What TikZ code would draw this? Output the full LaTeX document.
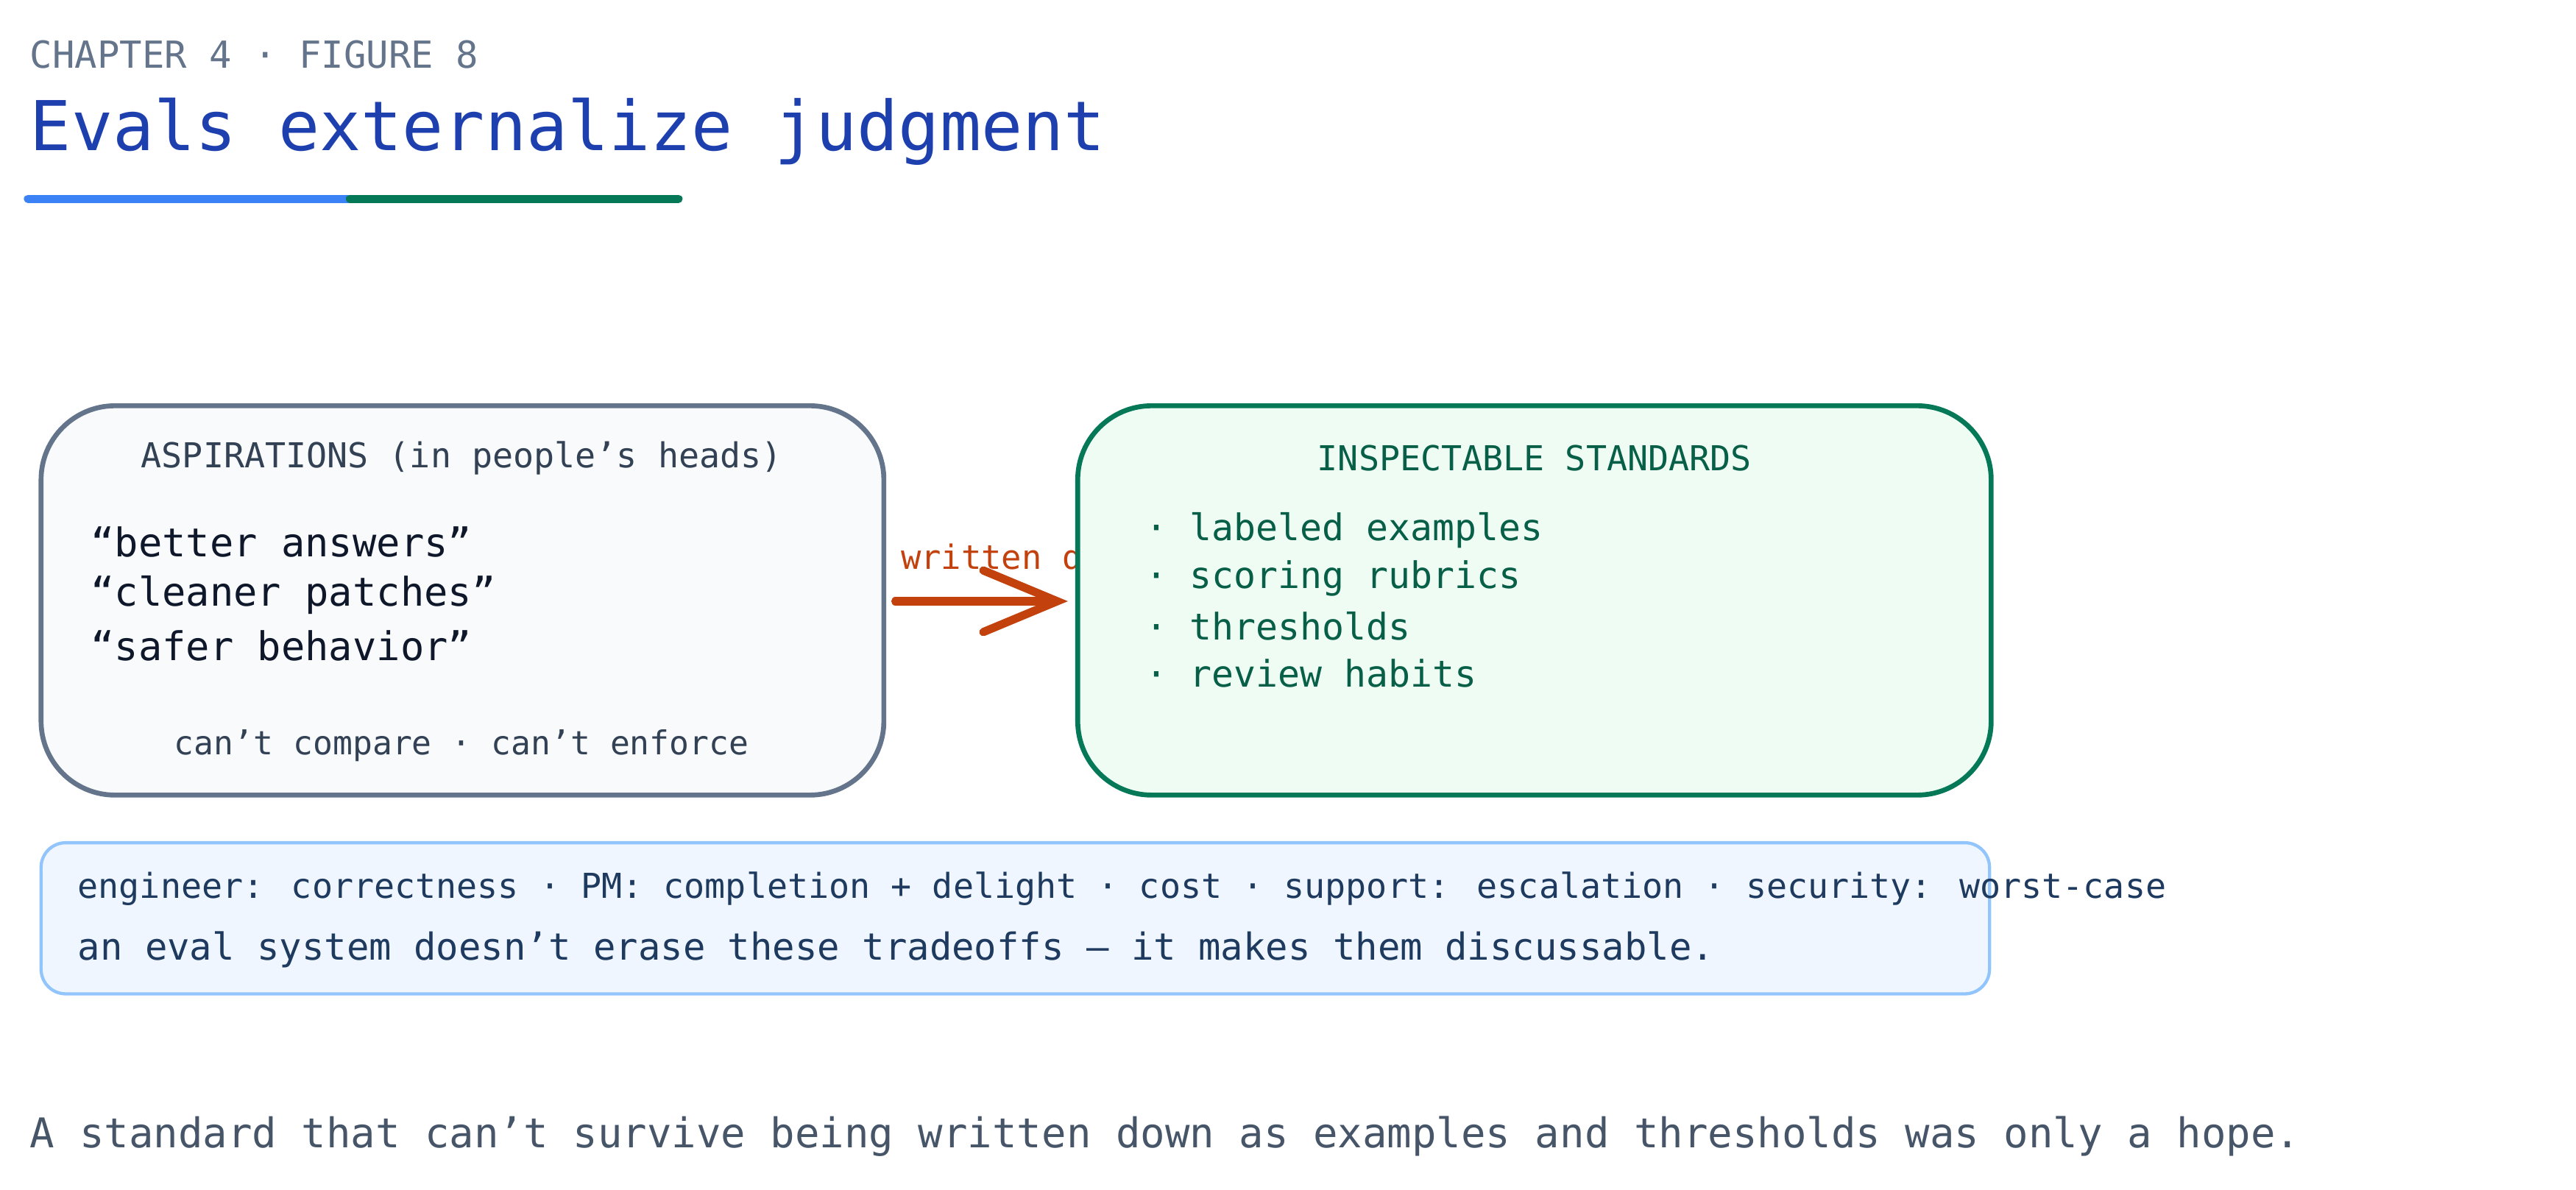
\documentclass[tikz,border=0pt]{standalone}
\usepackage{fontspec}
\setmainfont{DejaVu Sans Mono}
\usetikzlibrary{arrows.meta,positioning}
\definecolor{slate}{HTML}{64748B}
\definecolor{ink}{HTML}{0F172A}
\definecolor{inkmid}{HTML}{334155}
\definecolor{titleblue}{HTML}{1E40AF}
\definecolor{accblue}{HTML}{3B82F6}
\definecolor{accgreen}{HTML}{047857}
\definecolor{deepgreen}{HTML}{065F46}
\definecolor{paleslate}{HTML}{F8FAFC}
\definecolor{palegreen}{HTML}{EFFCF3}
\definecolor{paleblue}{HTML}{EFF6FF}
\definecolor{lineblue}{HTML}{93C5FD}
\definecolor{noteblue}{HTML}{1E3A5F}
\definecolor{rust}{HTML}{C2410C}
\definecolor{footgray}{HTML}{475569}
\newcommand{\fs}[1]{\fontsize{#1}{#1}\selectfont}
\tikzset{
  txt/.style={inner sep=0pt,anchor=west},
  panel/.style={rounded corners=0.9cm,line width=1.7pt},
  bul/.style={txt,text=deepgreen,font=\fs{12.7pt}},
  quot/.style={txt,text=ink,font=\fs{13.7pt}},
}
\begin{document}
\begin{tikzpicture}[x=0.02cm,y=-0.02cm]
\useasboundingbox (0,0) rectangle (1568,724);
% header
\node[txt,text=slate,font=\fs{12.9pt}] (chap) at (18,33) {CHAPTER 4  ·  FIGURE 8};
\node[txt,text=titleblue,font=\fs{23.8pt}] (title) at (18,80) {Evals externalize judgment};
\draw[accblue,line width=0.1cm,line cap=round] (17,121) -- (213,121);
\draw[accgreen,line width=0.1cm,line cap=round] (213,121) -- (413,121);
% aspirations
\draw[panel,draw=slate,fill=paleslate] (25,247) rectangle (538,484);
\node[text=inkmid,font=\fs{11.9pt},inner sep=0pt] (asph) at (281,279) {ASPIRATIONS  (in people's heads)};
\node[quot] (q1) at (55,330) {“better answers”};
\node[quot] (q2) at (55,362) {“cleaner patches”};
\node[quot] (q3) at (55,393) {“safer behavior”};
\node[text=inkmid,font=\fs{11.4pt},inner sep=0pt] (aspf) at (281,454) {can't compare · can't enforce};
% arrow
\coordinate (arrS) at (545,366);
\coordinate (arrE) at (650,366);
\node[txt,text=rust,font=\fs{11.6pt}] (arrl) at (548,339) {written down};
\draw[rust,line width=0.1cm,line cap=round,-{Straight Barb[length=0.9cm,width=0.75cm,line cap=round]}] (arrS) -- (arrE);
% standards
\draw[panel,draw=accgreen,fill=palegreen] (656,247) rectangle (1212,484);
\node[text=deepgreen,font=\fs{11.9pt},inner sep=0pt] (stdh) at (934,279) {INSPECTABLE STANDARDS};
\node[bul] (b1) at (697,323) {· labeled examples};
\node[bul] (b2) at (697,352) {· scoring rubrics};
\node[bul] (b3) at (697,381) {· thresholds};
\node[bul] (b4) at (697,410) {· review habits};
% tradeoffs
\draw[draw=lineblue,fill=paleblue,line width=1.1pt,rounded corners=0.3cm] (25,513) rectangle (1211,605);
\node[txt,text=noteblue,font=\fs{11.9pt}] (roles) at (47,541) {engineer: correctness   ·   PM: completion + delight   ·   cost   ·   support: escalation   ·   security: worst-case};
\node[txt,text=noteblue,font=\fs{12.9pt}] (note) at (47,578) {an eval system doesn't erase these tradeoffs — it makes them discussable.};
% footer
\node[txt,text=footgray,font=\fs{14.2pt}] (foot) at (18,692) {A standard that can't survive being written down as examples and thresholds was only a hope.};
\end{tikzpicture}
\end{document}
